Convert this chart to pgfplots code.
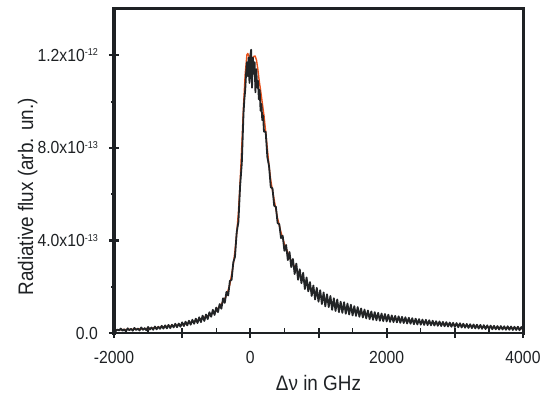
\documentclass[border=0pt]{standalone}
\usepackage{fontspec}
\setmainfont[FakeStretch=0.9]{Liberation Sans}
\usepackage{pgfplots}
\pgfplotsset{compat=1.18}
\definecolor{axcol}{HTML}{1E2124}
\definecolor{datcol}{HTML}{222426}
\definecolor{fitcol}{HTML}{E8501A}
\newcommand{\sexp}[1]{\raisebox{5.3bp}{\fontsize{10bp}{10bp}\selectfont #1}}
\begin{document}
\begin{tikzpicture}
\useasboundingbox (-114bp,-65bp) rectangle (439bp,333bp);
\begin{axis}[
  at={(0,0)}, anchor=south west,
  scale only axis, width=409bp, height=324bp,
  xmin=-2000, xmax=4000, ymin=0, ymax=14,
  axis lines*=left,
  x axis line style={-, line width=1.4bp, draw=axcol},
  y axis line style={-, line width=3.2bp, draw=axcol},
  xtick={-2000,-1000,0,1000,2000,3000,4000},
  xticklabels={-2000,{},0,{},2000,{},4000},
  minor x tick num=1,
  ytick={0,4,8,12},
  yticklabels={0.0,4.0x10\sexp{-13},8.0x10\sexp{-13},1.2x10\sexp{-12}},
  minor y tick num=1,
  tick align=center,
  major tick length=10bp, minor tick length=5bp,
  major x tick style={line width=2bp, draw=axcol},
  minor x tick style={line width=1.4bp, draw=axcol, yshift=2.5bp},
  major y tick style={line width=2.4bp, draw=axcol},
  minor y tick style={line width=2bp, draw=axcol},
  xticklabel style={anchor=base, inner sep=0pt, font=\fontsize{17.5bp}{19bp}\selectfont, text=axcol},
  yticklabel style={anchor=base east, inner sep=0pt, font=\fontsize{17.5bp}{19bp}\selectfont, text=axcol},
  xlabel={Δν in GHz},
  ylabel={Radiative flux (arb. un.)},
  xlabel style={at={(axis description cs:0.5,-0.176)}, anchor=base, inner sep=0pt, font=\fontsize{21bp}{23bp}\selectfont, text=axcol},
  ylabel style={at={(axis description cs:-0.198,0.42)}, anchor=base, inner sep=0pt, font=\fontsize{21bp}{23bp}\selectfont, text=axcol},
  every x tick label/.append style={yshift=-25bp},
  every y tick label/.append style={xshift=-11bp, yshift=-6bp},
  clip=true,
]
% fit (red)
\addplot[fitcol, line width=1.4bp, line join=round] coordinates {
(-2000,0.13) (-1500,0.19) (-1000,0.36) (-800,0.51) (-600,0.77) (-500,0.96)
(-400,1.35) (-350,1.62) (-300,2.1) (-250,2.95) (-225,3.55) (-200,4.3)
(-175,5.2) (-150,6.5) (-125,8.1) (-100,9.8) (-75,11.2) (-50,12.02)
(-37.5,12.08) (-25,12.0) (-10,11.85) (0,11.8) (15,11.78) (30,11.85)
(50,11.95) (70,11.97) (90,11.8) (110,11.4) (130,10.9) (150,10.5)
(175,9.95) (200,9.4) (225,8.7) (250,7.95) (275,7.2) (300,6.6)
(325,6.15) (350,5.75) (400,4.95) (450,4.35) (500,3.85) (600,3.1)
(700,2.62) (800,2.22) (900,1.87) (1000,1.62) (1200,1.27) (1400,1.06)
(1600,0.9) (1800,0.75) (2000,0.66) (2500,0.47) (3000,0.35) (3500,0.25)
(4000,0.19)
};
% measured spectrum (black)
\addplot[datcol, line width=1.8bp, line join=round] coordinates {
(-2000,0.17) (-1975,0.08) (-1950,0.15) (-1925,0.11) (-1900,0.19) (-1875,0.10)
(-1850,0.16) (-1825,0.07) (-1800,0.20) (-1775,0.12) (-1750,0.18) (-1725,0.10)
(-1700,0.22) (-1675,0.13) (-1650,0.19) (-1625,0.11) (-1600,0.24) (-1575,0.14)
(-1550,0.21) (-1525,0.12) (-1500,0.26) (-1475,0.15) (-1450,0.24) (-1425,0.14)
(-1400,0.28) (-1375,0.16) (-1350,0.27) (-1325,0.18) (-1300,0.31) (-1275,0.19)
(-1250,0.33) (-1225,0.20) (-1200,0.35) (-1175,0.21) (-1150,0.36) (-1125,0.24)
(-1100,0.40) (-1075,0.25) (-1050,0.41) (-1025,0.27) (-1000,0.46) (-975,0.30)
(-950,0.49) (-925,0.33) (-900,0.53) (-875,0.36) (-850,0.57) (-825,0.40)
(-800,0.62) (-775,0.43) (-750,0.68) (-725,0.47) (-700,0.75) (-675,0.52)
(-650,0.80) (-625,0.60) (-600,0.90) (-575,0.70) (-550,1.00) (-525,0.78)
(-500,1.10) (-475,0.90) (-450,1.25) (-425,1.05) (-400,1.50) (-375,1.30)
(-350,1.78) (-325,1.62) (-300,2.25) (-275,2.30) (-250,3.05) (-225,3.30)
(-200,4.35) (-175,4.80) (-150,6.35) (-125,7.35) (-100,9.5) (-87.5,10.1)
(-75,10.5) (-62.5,11.2) (-50,11.7) (-37.5,11.1) (-25,11.9) (-12.5,10.8)
(0,12.0) (12.5,12.24) (25,10.6) (37.5,11.9) (50,11.2) (62.5,11.7)
(75,10.4) (87.5,11.4) (100,10.6) (112.5,10.9) (125,10.1) (137.5,10.5)
(150,9.6) (162.5,9.9) (175,9.2) (187.5,9.4) (200,8.7) (225,8.7)
(250,7.6) (275,7.2) (300,6.3) (325,6.25) (350,5.5) (375,5.45)
(400,4.75) (425,4.7) (450,4.1) (475,4.2) (500,3.55) (525,3.8)
(550,3.15) (575,3.5) (600,2.85) (625,3.2) (650,2.55) (675,3.0)
(700,2.3) (725,2.75) (750,2.15) (775,2.6) (800,1.9) (825,2.4)
(850,1.8) (875,2.2) (900,1.6) (925,2.05) (950,1.45) (975,1.95)
(1000,1.35) (1025,1.85) (1050,1.25) (1075,1.75) (1100,1.15) (1125,1.67)
(1150,1.12) (1175,1.6) (1200,1.0) (1225,1.5) (1250,0.95) (1275,1.45)
(1300,0.9) (1325,1.35) (1350,0.87) (1375,1.33) (1400,0.83) (1425,1.27)
(1450,0.8) (1475,1.22) (1500,0.76) (1525,1.16) (1550,0.74) (1575,1.12)
(1600,0.70) (1625,1.06) (1650,0.67) (1675,1.01) (1700,0.63) (1725,0.97)
(1750,0.60) (1775,0.93) (1800,0.57) (1825,0.9) (1850,0.55) (1875,0.87)
(1900,0.53) (1925,0.84) (1950,0.51) (1975,0.82) (2000,0.50) (2025,0.79)
(2050,0.48) (2075,0.76) (2100,0.47) (2125,0.74) (2150,0.46) (2175,0.72)
(2200,0.44) (2225,0.7) (2250,0.43) (2275,0.68) (2300,0.41) (2325,0.66)
(2350,0.40) (2375,0.64) (2400,0.38) (2425,0.62) (2450,0.37) (2475,0.6)
(2500,0.36) (2525,0.58) (2550,0.35) (2575,0.57) (2600,0.34) (2625,0.55)
(2650,0.33) (2675,0.53) (2700,0.32) (2725,0.51) (2750,0.31) (2775,0.5)
(2800,0.30) (2825,0.48) (2850,0.29) (2875,0.47) (2900,0.28) (2925,0.45)
(2950,0.27) (2975,0.44) (3000,0.26) (3025,0.43) (3050,0.25) (3075,0.42)
(3100,0.24) (3125,0.4) (3150,0.23) (3175,0.39) (3200,0.22) (3225,0.38)
(3250,0.21) (3275,0.37) (3300,0.2) (3325,0.36) (3350,0.19) (3375,0.35)
(3400,0.18) (3425,0.34) (3450,0.17) (3475,0.33) (3500,0.17) (3525,0.32)
(3550,0.16) (3575,0.31) (3600,0.16) (3625,0.3) (3650,0.15) (3675,0.3)
(3700,0.15) (3725,0.29) (3750,0.14) (3775,0.29) (3800,0.14) (3825,0.28)
(3850,0.13) (3875,0.27) (3900,0.13) (3925,0.27) (3950,0.12) (3975,0.26)
(4000,0.14)
};
\end{axis}
\draw[line width=3bp, draw=axcol, line cap=rect] (0,0) -- (0,324bp) -- (409bp,324bp) -- (409bp,0);
\end{tikzpicture}
\end{document}
